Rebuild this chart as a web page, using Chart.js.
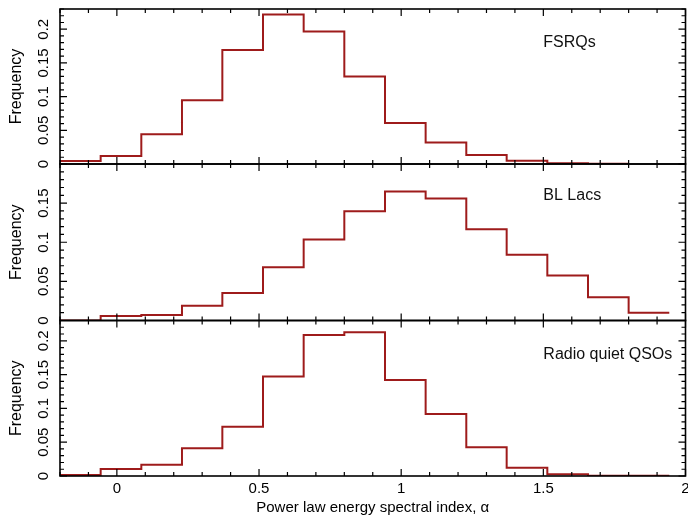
<!DOCTYPE html>
<html>
<head>
<meta charset="utf-8">
<script src="https://cdn.jsdelivr.net/npm/chart.js@4.4.0/dist/chart.umd.min.js"></script>
<style>
  html, body { margin: 0; padding: 0; background: #fff; }
  #wrap { position: relative; width: 688px; height: 515px; }
  #wrap canvas { position: absolute; left: 0; top: 0; }
</style>
</head>
<body>
<div id="wrap">
  <canvas id="fsrqChart" width="688" height="515"></canvas>
  <canvas id="bllacChart" width="688" height="515"></canvas>
  <canvas id="rqqChart" width="688" height="515"></canvas>
</div>
<script>
// histogram bin edges (alpha), 15 bins of width 1/7
var binEdges = [-0.2, -0.057, 0.086, 0.229, 0.371, 0.514, 0.657, 0.8, 0.943, 1.086, 1.229, 1.371, 1.514, 1.657, 1.8, 1.943];

var fsrqFreq  = [0.0045, 0.012, 0.044, 0.0945, 0.169, 0.222, 0.1965, 0.130, 0.061, 0.032, 0.0134, 0.005, 0.001, 0.0005, null];
var blLacFreq = [0, 0.0058, 0.007, 0.019, 0.035, 0.068, 0.1035, 0.1395, 0.1648, 0.156, 0.1167, 0.084, 0.0576, 0.0298, 0.010];
var rqqFreq   = [0.0015, 0.0104, 0.0168, 0.041, 0.073, 0.147, 0.2086, 0.2125, 0.142, 0.0917, 0.0424, 0.0123, 0.0025, 0.0005, 0.0005];

var panelNames = ['FSRQs', 'BL Lacs', 'Radio quiet QSOs'];
var xTickLabels = [0, 0.5, 1, 1.5, 2];
var yTickLabels = [0, 0.05, 0.1, 0.15, 0.2];

var fontFamily = "'Liberation Sans', Arial, Helvetica, sans-serif";
Chart.defaults.font.family = fontFamily;
Chart.defaults.color = '#000';

// one point per bin at its left edge, plus the right edge of the last bin
function stepPoints(values) {
    var pts = [];
    var last = -1;
    values.forEach(function (v, i) {
        if (v !== null) {
            pts.push({ x: binEdges[i], y: v });
            last = i;
        }
    });
    pts.push({ x: binEdges[last + 1], y: values[last] });
    return pts;
}

// box, inward major/minor ticks on all four sides, and the panel name
var frameTicks = {
    id: 'frameTicks',
    afterDraw: function (chart, args, opts) {
        var ctx = chart.ctx;
        var a = chart.chartArea;
        var xs = chart.scales.x;
        var ys = chart.scales.y;
        ctx.save();
        ctx.strokeStyle = '#000';
        ctx.lineWidth = 1.2;
        ctx.beginPath();
        for (var k = -2; k <= 20; k++) {
            var px = xs.getPixelForValue(k / 10);
            var len = (k % 5 === 0) ? 7 : 4;
            ctx.moveTo(px, a.bottom);
            ctx.lineTo(px, a.bottom - len);
            ctx.moveTo(px, a.top);
            ctx.lineTo(px, a.top + len);
        }
        for (var j = 0; j / 100 <= ys.max + 1e-9; j++) {
            var py = ys.getPixelForValue(j / 100);
            var ylen = (j % 5 === 0) ? 7 : 4;
            ctx.moveTo(a.left, py);
            ctx.lineTo(a.left + ylen, py);
            ctx.moveTo(a.right, py);
            ctx.lineTo(a.right - ylen, py);
        }
        ctx.stroke();
        ctx.lineWidth = 1.6;
        ctx.strokeRect(a.left, a.top, a.right - a.left, a.bottom - a.top);

        ctx.fillStyle = '#111';
        ctx.font = '16px ' + fontFamily;
        ctx.textBaseline = 'middle';
        ctx.textAlign = 'left';
        ctx.fillText(opts.name, xs.getPixelForValue(1.5), ys.getPixelForValue(opts.labelY));
        ctx.restore();
    }
};

function makePanel(canvasId, values, name, top, bottom, yMax, labelY, isBottom) {
    var ctx = document.getElementById(canvasId).getContext('2d');
    return new Chart(ctx, {
        type: 'line',
        data: {
            datasets: [{
                label: name,
                data: stepPoints(values),
                stepped: 'before',
                borderColor: '#9e1b1b',
                borderWidth: 2,
                pointRadius: 0,
                fill: false
            }]
        },
        options: {
            responsive: false,
            animation: false,
            layout: {
                padding: { top: top, bottom: 0, left: 0, right: 2.5 }
            },
            plugins: {
                legend: { display: false },
                tooltip: { enabled: false },
                frameTicks: { name: name, labelY: labelY }
            },
            scales: {
                x: {
                    type: 'linear',
                    min: -0.2,
                    max: 2,
                    grid: { display: false, drawTicks: false },
                    border: { display: false },
                    afterBuildTicks: function (scale) {
                        scale.ticks = xTickLabels.map(function (v) { return { value: v }; });
                    },
                    afterFit: function (scale) {
                        scale.height = 515 - bottom;
                        scale.paddingLeft = 0;
                        scale.paddingRight = 0;
                    },
                    ticks: {
                        display: isBottom,
                        padding: 4,
                        font: { size: 15 },
                        maxRotation: 0,
                        autoSkip: false,
                        callback: function (v) { return String(v); }
                    },
                    title: {
                        display: isBottom,
                        text: 'Power law energy spectral index, α',
                        font: { size: 15, lineHeight: 1 },
                        padding: { top: 0, bottom: 0 }
                    }
                },
                y: {
                    type: 'linear',
                    min: 0,
                    max: yMax,
                    grid: { display: false, drawTicks: false },
                    border: { display: false },
                    afterBuildTicks: function (scale) {
                        scale.ticks = yTickLabels.filter(function (v) {
                            return v < scale.max - 1e-9;
                        }).map(function (v) { return { value: v }; });
                    },
                    afterFit: function (scale) {
                        scale.width = 60;
                        scale.paddingTop = 0;
                        scale.paddingBottom = 0;
                    },
                    ticks: {
                        font: { size: 15 },
                        minRotation: 90,
                        maxRotation: 90,
                        crossAlign: 'center',
                        padding: 1.5,
                        autoSkip: false,
                        callback: function (v) { return String(v); }
                    },
                    title: {
                        display: true,
                        text: 'Frequency',
                        font: { size: 16, lineHeight: 1 },
                        padding: { top: 8.5, bottom: 0 }
                    }
                }
            }
        },
        plugins: [frameTicks]
    });
}

makePanel('fsrqChart', fsrqFreq, panelNames[0], 9, 164, 0.23, 0.18, false);
makePanel('bllacChart', blLacFreq, panelNames[1], 164, 320.5, 0.2, 0.16, false);
makePanel('rqqChart', rqqFreq, panelNames[2], 320.5, 476, 0.23, 0.18, true);
</script>
</body>
</html>
